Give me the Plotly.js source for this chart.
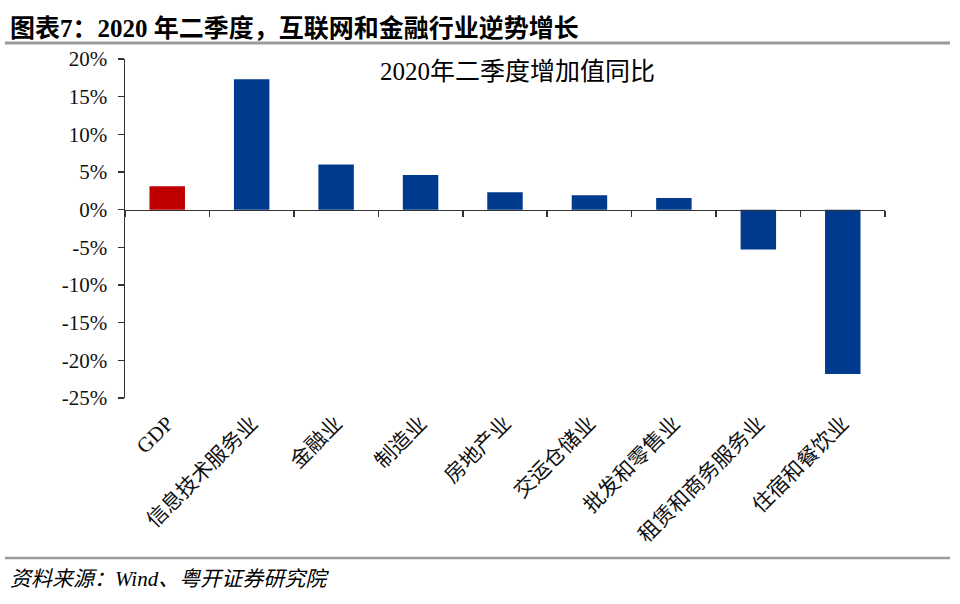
<!DOCTYPE html>
<html>
<head>
<meta charset="utf-8">
<script src="https://cdn.plot.ly/plotly-3.0.1.min.js"></script>
<style>
html,body{margin:0;padding:0;background:#fff;}
#chart{width:960px;height:604px;}
</style>
</head>
<body>
<div id="chart"></div>
<script>
// Data (% YoY, Q2 2020)
var categories = ['GDP', '信息技术服务业', '金融业', '制造业', '房地产业', '交运仓储业', '批发和零售业', '租赁和商务服务业', '住宿和餐饮业'];
var values = [3.1, 17.3, 6.0, 4.6, 2.3, 1.9, 1.55, -5.3, -21.8];
var barColors = ['#C00000', '#003A8C', '#003A8C', '#003A8C', '#003A8C', '#003A8C', '#003A8C', '#003A8C', '#003A8C'];
var yTickVals = [20, 15, 10, 5, 0, -5, -10, -15, -20, -25];
var yTickText = ['20%', '15%', '10%', '5%', '0%', '-5%', '-10%', '-15%', '-20%', '-25%'];
var headerText = '<b>图表7：2020 年二季度，互联网和金融行业逆势增长</b>';
var chartTitle = '2020年二季度增加值同比';
var sourceText = '<i>资料来源：Wind、粤开证券研究院</i>';

var yMin = -25, yMax = 20;
var serif = 'Liberation Serif, Noto Sans CJK SC, serif';

var traces = [
  {
    type: 'bar', x: categories, y: values,
    marker: {color: barColors, line: {width: 0}},
    hoverinfo: 'x+y', xaxis: 'x', yaxis: 'y'
  },
  {
    type: 'bar', x: categories, y: values,
    marker: {color: barColors, opacity: 0},
    hoverinfo: 'skip', xaxis: 'x2', yaxis: 'y', showlegend: false
  }
];

var layout = {
  width: 960, height: 604,
  margin: {l: 125, r: 75, t: 59, b: 206},
  paper_bgcolor: '#ffffff', plot_bgcolor: '#ffffff',
  showlegend: false,
  bargap: 0.58,
  font: {family: serif, color: '#000'},
  xaxis: {
    type: 'category',
    showline: false, ticks: '', showgrid: false, zeroline: false,
    tickangle: -45,
    tickfont: {family: serif, size: 21, color: '#111'},
    ticklabelstandoff: 8
  },
  xaxis2: {
    type: 'category', overlaying: 'x', matches: 'x',
    anchor: 'free', position: (0 - yMin) / (yMax - yMin),
    showline: true, linecolor: '#333', linewidth: 1.5,
    ticks: 'outside', tickson: 'boundaries', ticklen: 6, tickwidth: 1.5, tickcolor: '#333',
    showticklabels: false, showgrid: false, zeroline: false
  },
  yaxis: {
    range: [yMin, yMax],
    tickvals: yTickVals, ticktext: yTickText,
    showline: true, linecolor: '#333', linewidth: 1.5,
    ticks: 'outside', ticklen: 6, tickwidth: 1.5, tickcolor: '#333',
    showgrid: false, zeroline: false,
    tickfont: {family: serif, size: 21, color: '#111'},
    ticklabelstandoff: 6
  },
  annotations: [
    {
      text: chartTitle, xref: 'paper', yref: 'paper',
      x: 0.517, y: 0.962, xanchor: 'center', yanchor: 'middle',
      showarrow: false, font: {family: serif, size: 25, color: '#000'}
    },
    {
      text: headerText, xref: 'paper', yref: 'paper',
      x: -0.154, y: 1.0914, xanchor: 'left', yanchor: 'middle',
      showarrow: false, font: {family: 'Liberation Serif, Noto Sans CJK SC, sans-serif', size: 25, color: '#000'}
    },
    {
      text: sourceText, xref: 'paper', yref: 'paper',
      x: -0.154, y: -0.534, xanchor: 'left', yanchor: 'middle',
      showarrow: false, font: {family: serif, size: 21, color: '#000'}
    }
  ],
  shapes: [
    {type: 'line', xref: 'paper', yref: 'paper', x0: -0.158, x1: 1.0855, y0: 1.0472, y1: 1.0472,
     line: {color: '#9a9a9a', width: 3}},
    {type: 'line', xref: 'paper', yref: 'paper', x0: -0.158, x1: 1.0855, y0: -0.472, y1: -0.472,
     line: {color: '#9a9a9a', width: 2.5}}
  ]
};

Plotly.newPlot('chart', traces, layout, {staticPlot: true, displayModeBar: false});
</script>
</body>
</html>
